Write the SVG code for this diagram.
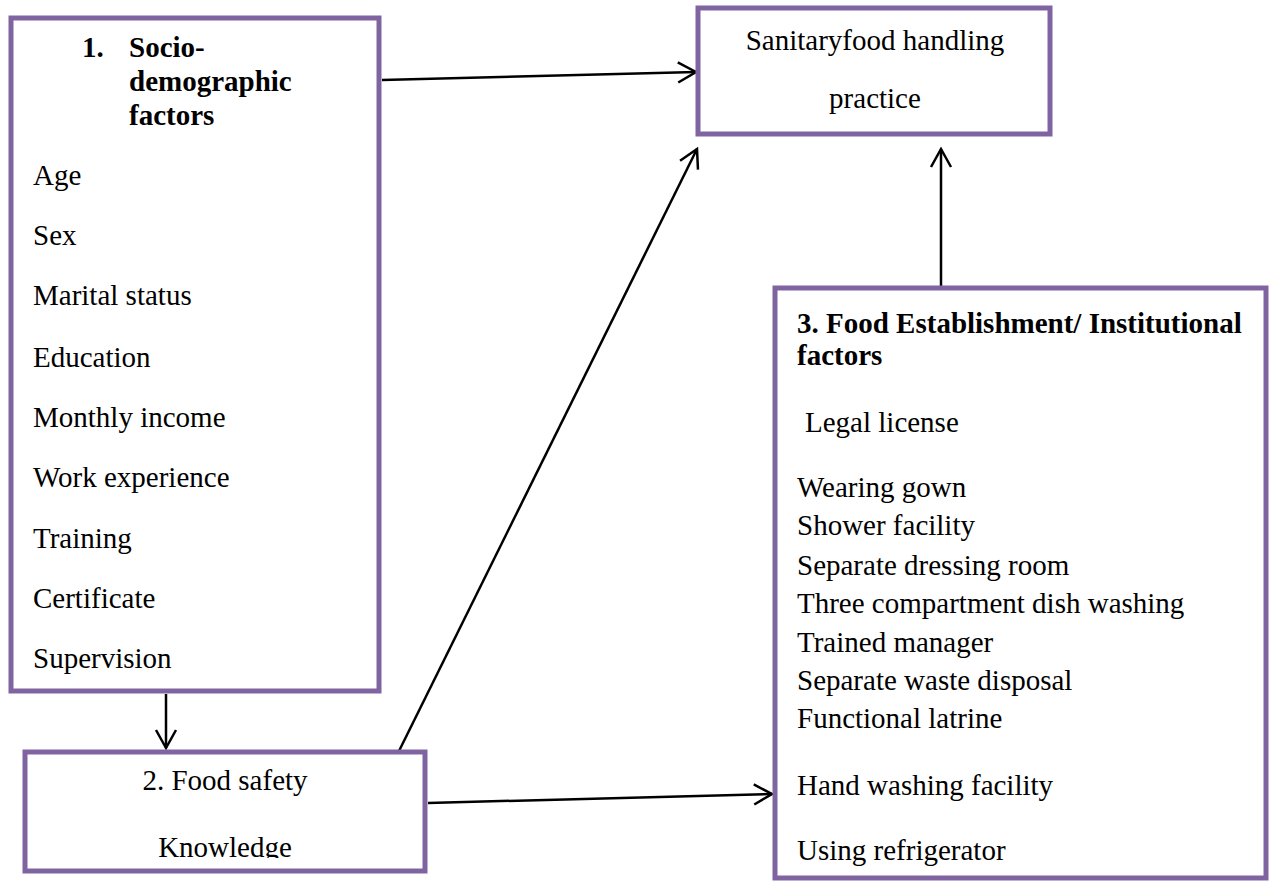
<svg xmlns="http://www.w3.org/2000/svg" width="1270" height="881" viewBox="0 0 1270 881">
<style>
.box{fill:#fff;stroke:#8064A2;stroke-width:5}
.t{font-family:"Liberation Serif","Times New Roman",serif;font-size:29px;fill:#000}
.b{font-weight:bold}
.c{text-anchor:middle}
.conn{fill:none;stroke:#000;stroke-width:2.5;marker-end:url(#arr)}
</style>
<defs>
<marker id="arr" markerUnits="userSpaceOnUse" markerWidth="30" markerHeight="30" refX="20" refY="10" orient="auto" viewBox="0 0 30 20">
<path d="M2,0 L20,10 L2,20" fill="none" stroke="#000" stroke-width="2.5"/>
</marker>
<clipPath id="clip2"><rect x="25" y="752" width="400" height="106"/></clipPath>
</defs>
<rect width="1270" height="881" fill="#fff"/>
<g id="connectors">
<line class="conn" x1="382" y1="80" x2="696" y2="72"/>
<line class="conn" x1="399" y1="751" x2="697" y2="149"/>
<line class="conn" x1="166" y1="694" x2="166" y2="748"/>
<line class="conn" x1="428" y1="803" x2="772" y2="794"/>
<line class="conn" x1="941" y1="286" x2="941" y2="149"/>
</g>
<g id="node-socio">
<rect class="box" x="11" y="18" width="368" height="673"/>
<text class="t b" x="82" y="57">1.</text>
<text class="t b" x="129" y="57">Socio-</text>
<text class="t b" x="129" y="91">demographic</text>
<text class="t b" x="129" y="125">factors</text>
<text class="t" x="33" y="185">Age</text>
<text class="t" x="33" y="245">Sex</text>
<text class="t" x="33" y="305">Marital status</text>
<text class="t" x="33" y="367">Education</text>
<text class="t" x="33" y="427">Monthly income</text>
<text class="t" x="33" y="487">Work experience</text>
<text class="t" x="33" y="548">Training</text>
<text class="t" x="33" y="608">Certificate</text>
<text class="t" x="33" y="668">Supervision</text>
</g>
<g id="node-knowledge">
<rect class="box" x="25" y="752" width="400" height="119"/>
<g clip-path="url(#clip2)">
<text class="t c" x="225" y="790">2. Food safety</text>
<text class="t c" x="225" y="857">Knowledge</text>
</g>
</g>
<g id="node-practice">
<rect class="box" x="698" y="8" width="352" height="126"/>
<text class="t c" x="875" y="50">Sanitaryfood handling</text>
<text class="t c" x="875" y="108">practice</text>
</g>
<g id="node-establishment">
<rect class="box" x="775" y="288" width="491" height="590"/>
<text class="t b" x="797" y="333">3. Food Establishment/ Institutional</text>
<text class="t b" x="797" y="365">factors</text>
<text class="t" x="805" y="432">Legal license</text>
<text class="t" x="797" y="497">Wearing gown</text>
<text class="t" x="797" y="535">Shower facility</text>
<text class="t" x="797" y="575">Separate dressing room</text>
<text class="t" x="797" y="613">Three compartment dish washing</text>
<text class="t" x="797" y="652">Trained manager</text>
<text class="t" x="797" y="690">Separate waste disposal</text>
<text class="t" x="797" y="728">Functional latrine</text>
<text class="t" x="797" y="795">Hand washing facility</text>
<text class="t" x="797" y="860">Using refrigerator</text>
</g>
</svg>
